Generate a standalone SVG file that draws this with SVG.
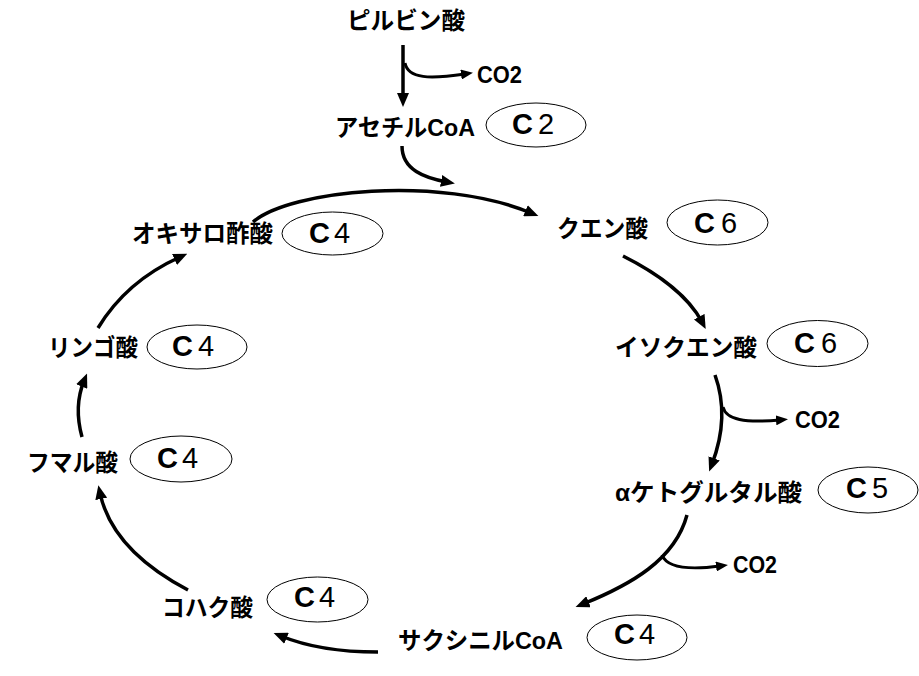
<svg xmlns="http://www.w3.org/2000/svg" width="919" height="676" viewBox="0 0 919 676">
<style>
.lbl{font-family:"Liberation Sans","Noto Sans CJK JP",sans-serif;font-weight:bold;font-size:24px;fill:#000}
.co2{font-family:"Liberation Sans",sans-serif;font-weight:bold;font-size:23px;fill:#000}
.cc{font-family:"Liberation Sans",sans-serif;font-weight:bold;font-size:29px;fill:#000}
.cn{font-family:"Liberation Sans",sans-serif;font-weight:normal;font-size:29px;fill:#000}
.ell{fill:#fff;stroke:#000;stroke-width:1}
.con{fill:none;stroke:#000;stroke-width:3.5;marker-end:url(#arr)}
.con2{fill:none;stroke:#000;stroke-width:3;marker-end:url(#arrs)}
</style>
<defs>
<marker id="arr" markerUnits="userSpaceOnUse" markerWidth="14" markerHeight="12" viewBox="0 0 14 12" refX="6" refY="6" orient="auto"><path d="M0,0 L14,6 L0,12 z" fill="#000"/></marker>
<marker id="arrs" markerUnits="userSpaceOnUse" markerWidth="12" markerHeight="10" viewBox="0 0 12 10" refX="4" refY="5" orient="auto"><path d="M0,0 L12,5 L0,10 z" fill="#000"/></marker>
</defs>
<rect width="919" height="676" fill="#fff"/>
<g id="connectors">
<path class="con" d="M403,45 V99"/>
<path class="con2" d="M405,63 C408,79 430,79 465,74"/>
<path class="con" d="M402,146 C402,170 425,178 447,182"/>
<path class="con" d="M253,222 C290,190 440,175 531,213"/>
<path class="con" d="M623,256 C655,272 688,295 702,322"/>
<path class="con" d="M715,375 C724,400 725,430 712,464"/>
<path class="con2" d="M723,407 C726,420 745,423 780,420"/>
<path class="con" d="M687,515 C675,560 630,585 583,604"/>
<path class="con2" d="M662,555 C667,568 690,570 720,566"/>
<path class="con" d="M378,652 C345,652 310,648 281,636"/>
<path class="con" d="M188,590 C150,570 110,540 100,493"/>
<path class="con" d="M82,437 C76,415 77,398 84,381"/>
<path class="con" d="M98,328 C115,300 140,275 180,257"/>
</g>
<g id="pyruvate"><text class="lbl" x="347" y="29" textLength="118" lengthAdjust="spacingAndGlyphs">ピルビン酸</text></g>
<g id="co2-1"><text class="co2" x="477" y="83" textLength="45" lengthAdjust="spacingAndGlyphs">CO2</text></g>
<g id="acetylcoa">
<text class="lbl" x="335" y="136" textLength="140" lengthAdjust="spacingAndGlyphs">アセチルCoA</text>
<ellipse class="ell" cx="536" cy="125" rx="50" ry="22"/>
<text x="512" y="134"><tspan class="cc">C</tspan><tspan class="cn" x="538">2</tspan></text>
</g>
<g id="oxaloacetate">
<text class="lbl" x="132" y="242" textLength="141" lengthAdjust="spacingAndGlyphs">オキサロ酢酸</text>
<ellipse class="ell" cx="332.5" cy="233.5" rx="50.5" ry="21.5"/>
<text x="309" y="243"><tspan class="cc">C</tspan><tspan class="cn" x="334">4</tspan></text>
</g>
<g id="citrate">
<text class="lbl" x="557" y="237" textLength="91" lengthAdjust="spacingAndGlyphs">クエン酸</text>
<ellipse class="ell" cx="717.5" cy="222.5" rx="50.5" ry="22.5"/>
<text x="694" y="233"><tspan class="cc">C</tspan><tspan class="cn" x="721">6</tspan></text>
</g>
<g id="isocitrate">
<text class="lbl" x="615" y="356" textLength="142" lengthAdjust="spacingAndGlyphs">イソクエン酸</text>
<ellipse class="ell" cx="817.5" cy="343.5" rx="50.5" ry="23"/>
<text x="794" y="353"><tspan class="cc">C</tspan><tspan class="cn" x="821">6</tspan></text>
</g>
<g id="co2-2"><text class="co2" x="795" y="428" textLength="45" lengthAdjust="spacingAndGlyphs">CO2</text></g>
<g id="ketoglutarate">
<text class="lbl" x="615" y="501" textLength="187" lengthAdjust="spacingAndGlyphs">αケトグルタル酸</text>
<ellipse class="ell" cx="868" cy="490" rx="50" ry="23"/>
<text x="846" y="498"><tspan class="cc">C</tspan><tspan class="cn" x="872">5</tspan></text>
</g>
<g id="co2-3"><text class="co2" x="733" y="573" textLength="44" lengthAdjust="spacingAndGlyphs">CO2</text></g>
<g id="succinylcoa">
<text class="lbl" x="398" y="649" textLength="165" lengthAdjust="spacingAndGlyphs">サクシニルCoA</text>
<ellipse class="ell" cx="637" cy="637.5" rx="50" ry="22.5"/>
<text x="614" y="644"><tspan class="cc">C</tspan><tspan class="cn" x="639">4</tspan></text>
</g>
<g id="succinate">
<text class="lbl" x="162" y="616" textLength="91" lengthAdjust="spacingAndGlyphs">コハク酸</text>
<ellipse class="ell" cx="317.5" cy="599.5" rx="50.5" ry="22.5"/>
<text x="294" y="607"><tspan class="cc">C</tspan><tspan class="cn" x="319">4</tspan></text>
</g>
<g id="fumarate">
<text class="lbl" x="27" y="471" textLength="91" lengthAdjust="spacingAndGlyphs">フマル酸</text>
<ellipse class="ell" cx="181" cy="459" rx="51" ry="23"/>
<text x="157" y="468"><tspan class="cc">C</tspan><tspan class="cn" x="182">4</tspan></text>
</g>
<g id="malate">
<text class="lbl" x="48" y="356" textLength="90" lengthAdjust="spacingAndGlyphs">リンゴ酸</text>
<ellipse class="ell" cx="197" cy="347" rx="50" ry="22"/>
<text x="172" y="356"><tspan class="cc">C</tspan><tspan class="cn" x="198">4</tspan></text>
</g>
</svg>
